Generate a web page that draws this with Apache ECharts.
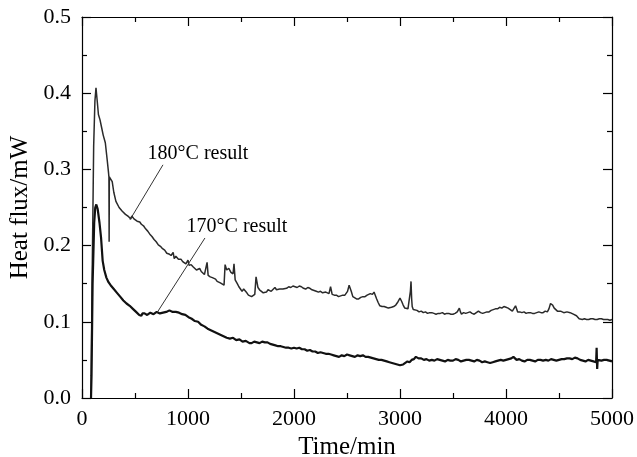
<!DOCTYPE html>
<html>
<head>
<meta charset="utf-8">
<script src="https://cdn.jsdelivr.net/npm/echarts@6/dist/echarts.min.js"></script>
<style>
  html, body { margin: 0; padding: 0; background: #fff; }
  #chart-container { width: 637px; height: 457px; }
</style>
</head>
<body>
<div id="chart-container"></div>
<script>
var dom = document.getElementById("chart-container");
var myChart = echarts.init(dom, null, { renderer: "canvas" });

// time (min), heat flux (mW)
const data180 = [
  [85, 0.0], [95, 0.15], [110, 0.33], [122, 0.39], [132, 0.407], [142, 0.392], [155, 0.372],
  [170, 0.365], [185, 0.355], [200, 0.345], [220, 0.335], [238, 0.312], [250, 0.296],
  [254, 0.29], [256, 0.205], [258, 0.29], [270, 0.288], [285, 0.284], [300, 0.27],
  [320, 0.258], [350, 0.25], [380, 0.245], [410, 0.241], [440, 0.238], [460, 0.235],
  [470, 0.239], [490, 0.235], [520, 0.232], [545, 0.231], [560, 0.228], [580, 0.226],
  [600, 0.222], [620, 0.219], [640, 0.215], [660, 0.212], [680, 0.208], [700, 0.205],
  [720, 0.201], [740, 0.199], [760, 0.196], [780, 0.194], [800, 0.19], [820, 0.189],
  [840, 0.187], [860, 0.191], [870, 0.183], [885, 0.186], [900, 0.186], [910, 0.182],
  [920, 0.18], [935, 0.182], [950, 0.179], [965, 0.178], [980, 0.176], [1000, 0.181],
  [1010, 0.174], [1030, 0.175], [1050, 0.172], [1065, 0.17], [1080, 0.168], [1095, 0.17],
  [1110, 0.17], [1125, 0.166], [1140, 0.164], [1155, 0.162], [1170, 0.16], [1180, 0.178],
  [1190, 0.161], [1210, 0.159], [1230, 0.158], [1245, 0.157], [1260, 0.156], [1275, 0.153],
  [1290, 0.152], [1305, 0.151], [1320, 0.15], [1340, 0.148], [1350, 0.175], [1365, 0.168],
  [1385, 0.17], [1405, 0.165], [1425, 0.163], [1434, 0.176], [1445, 0.155], [1465, 0.15],
  [1480, 0.146], [1495, 0.143], [1510, 0.14], [1525, 0.143], [1540, 0.142], [1555, 0.138],
  [1570, 0.135], [1585, 0.134], [1600, 0.133], [1615, 0.134], [1630, 0.136], [1642, 0.159],
  [1660, 0.145], [1675, 0.142], [1690, 0.14], [1710, 0.138], [1725, 0.139], [1740, 0.139],
  [1755, 0.142], [1770, 0.141], [1785, 0.14], [1800, 0.14], [1820, 0.145], [1835, 0.142],
  [1850, 0.142], [1865, 0.143], [1880, 0.144], [1895, 0.143], [1910, 0.145], [1930, 0.144],
  [1950, 0.146], [1970, 0.145], [1990, 0.147], [2010, 0.146], [2030, 0.145], [2050, 0.147],
  [2070, 0.146], [2090, 0.144], [2110, 0.143], [2130, 0.145], [2150, 0.144], [2170, 0.142],
  [2190, 0.141], [2210, 0.14], [2230, 0.139], [2250, 0.14], [2270, 0.138], [2285, 0.139],
  [2300, 0.139], [2315, 0.137], [2330, 0.137], [2345, 0.146], [2360, 0.136], [2380, 0.135],
  [2400, 0.135], [2420, 0.133], [2440, 0.134], [2460, 0.135], [2480, 0.135], [2505, 0.14],
  [2520, 0.148], [2540, 0.14], [2555, 0.133], [2570, 0.131], [2590, 0.13], [2610, 0.13],
  [2630, 0.132], [2650, 0.133], [2670, 0.133], [2690, 0.135], [2705, 0.134], [2720, 0.137],
  [2740, 0.136], [2755, 0.139], [2780, 0.13], [2795, 0.125], [2810, 0.121], [2830, 0.12],
  [2850, 0.12], [2870, 0.119], [2890, 0.118], [2905, 0.12], [2920, 0.119], [2940, 0.12],
  [2960, 0.122], [2980, 0.126], [3000, 0.131], [3015, 0.127], [3030, 0.122], [3045, 0.118],
  [3060, 0.116], [3075, 0.117], [3090, 0.116], [3098, 0.14], [3104, 0.153], [3110, 0.13],
  [3115, 0.12], [3125, 0.116], [3140, 0.114], [3160, 0.115], [3180, 0.113], [3200, 0.114],
  [3220, 0.112], [3240, 0.113], [3260, 0.111], [3280, 0.112], [3300, 0.112], [3320, 0.111],
  [3340, 0.11], [3360, 0.111], [3380, 0.111], [3400, 0.112], [3420, 0.11], [3440, 0.111],
  [3460, 0.111], [3480, 0.11], [3500, 0.11], [3520, 0.111], [3540, 0.113], [3560, 0.118],
  [3570, 0.113], [3580, 0.11], [3600, 0.112], [3620, 0.111], [3640, 0.112], [3660, 0.113],
  [3680, 0.111], [3700, 0.11], [3720, 0.112], [3740, 0.114], [3760, 0.112], [3780, 0.111],
  [3800, 0.112], [3820, 0.113], [3840, 0.113], [3860, 0.115], [3880, 0.116], [3900, 0.117],
  [3920, 0.117], [3940, 0.119], [3960, 0.118], [3980, 0.12], [4000, 0.119], [4020, 0.118],
  [4040, 0.116], [4060, 0.114], [4075, 0.115], [4090, 0.121], [4100, 0.117], [4110, 0.113],
  [4130, 0.113], [4150, 0.112], [4170, 0.113], [4190, 0.111], [4210, 0.112], [4230, 0.112],
  [4250, 0.111], [4270, 0.111], [4290, 0.112], [4310, 0.113], [4330, 0.112], [4350, 0.112],
  [4370, 0.114], [4390, 0.113], [4405, 0.117], [4420, 0.124], [4430, 0.123], [4440, 0.122],
  [4455, 0.118], [4470, 0.116], [4485, 0.114], [4500, 0.113], [4515, 0.114], [4530, 0.112],
  [4545, 0.112], [4560, 0.111], [4575, 0.113], [4590, 0.114], [4605, 0.112], [4620, 0.111],
  [4635, 0.11], [4650, 0.109], [4665, 0.108], [4680, 0.106], [4690, 0.104], [4700, 0.103],
  [4720, 0.103], [4740, 0.104], [4760, 0.103], [4780, 0.103], [4800, 0.104], [4820, 0.104],
  [4840, 0.103], [4860, 0.103], [4880, 0.104], [4900, 0.104], [4920, 0.103], [4940, 0.103],
  [4960, 0.103], [4980, 0.102], [5000, 0.103]
];

const data170 = [
  [85, 0.0], [90, 0.03], [100, 0.15], [115, 0.23], [125, 0.25], [135, 0.254], [148, 0.248],
  [165, 0.23], [180, 0.21], [195, 0.18], [210, 0.168], [230, 0.158], [250, 0.152],
  [270, 0.148], [285, 0.146], [300, 0.143], [315, 0.141], [330, 0.138], [345, 0.136],
  [360, 0.133], [375, 0.131], [390, 0.128], [405, 0.127], [420, 0.124], [435, 0.123],
  [450, 0.121], [465, 0.119], [480, 0.117], [495, 0.115], [510, 0.113], [525, 0.111],
  [540, 0.109], [550, 0.108], [560, 0.108], [570, 0.111], [580, 0.113], [590, 0.111],
  [600, 0.111], [615, 0.109], [630, 0.11], [645, 0.112], [660, 0.112], [675, 0.11],
  [690, 0.111], [705, 0.113], [720, 0.112], [735, 0.111], [750, 0.113], [765, 0.112],
  [780, 0.114], [795, 0.113], [810, 0.113], [825, 0.115], [840, 0.115], [855, 0.113],
  [870, 0.114], [885, 0.113], [900, 0.113], [915, 0.112], [930, 0.111], [945, 0.11],
  [960, 0.109], [975, 0.109], [990, 0.107], [1005, 0.106], [1020, 0.105], [1035, 0.104],
  [1050, 0.103], [1065, 0.101], [1080, 0.1], [1095, 0.1], [1110, 0.098], [1125, 0.096],
  [1140, 0.095], [1155, 0.094], [1170, 0.092], [1185, 0.091], [1200, 0.09], [1215, 0.089],
  [1230, 0.088], [1245, 0.087], [1260, 0.086], [1275, 0.085], [1290, 0.084], [1305, 0.083],
  [1320, 0.082], [1335, 0.081], [1350, 0.08], [1365, 0.079], [1380, 0.08], [1395, 0.078],
  [1410, 0.078], [1425, 0.079], [1440, 0.077], [1455, 0.076], [1470, 0.076], [1485, 0.077],
  [1500, 0.075], [1515, 0.074], [1530, 0.074], [1545, 0.075], [1560, 0.073], [1580, 0.072],
  [1600, 0.072], [1625, 0.074], [1650, 0.073], [1675, 0.072], [1700, 0.074], [1725, 0.073],
  [1750, 0.073], [1775, 0.071], [1800, 0.07], [1825, 0.069], [1850, 0.068], [1875, 0.068],
  [1900, 0.067], [1925, 0.066], [1950, 0.066], [1975, 0.065], [2000, 0.066], [2025, 0.065],
  [2050, 0.066], [2075, 0.064], [2100, 0.064], [2125, 0.062], [2150, 0.063], [2175, 0.061],
  [2200, 0.061], [2225, 0.059], [2250, 0.06], [2275, 0.059], [2300, 0.058], [2325, 0.058],
  [2350, 0.057], [2375, 0.056], [2400, 0.055], [2425, 0.054], [2450, 0.056], [2475, 0.055],
  [2500, 0.057], [2525, 0.056], [2550, 0.055], [2575, 0.054], [2600, 0.056], [2625, 0.055],
  [2650, 0.056], [2675, 0.054], [2700, 0.054], [2725, 0.053], [2750, 0.052], [2775, 0.051],
  [2800, 0.05], [2825, 0.05], [2850, 0.049], [2875, 0.048], [2900, 0.047], [2925, 0.046],
  [2950, 0.045], [2975, 0.044], [3000, 0.043], [3015, 0.042], [3030, 0.044], [3050, 0.046],
  [3070, 0.048], [3090, 0.047], [3110, 0.05], [3130, 0.051], [3150, 0.054], [3175, 0.052],
  [3200, 0.052], [3225, 0.05], [3250, 0.051], [3275, 0.049], [3300, 0.05], [3325, 0.049],
  [3350, 0.051], [3375, 0.05], [3400, 0.049], [3425, 0.048], [3450, 0.05], [3475, 0.049],
  [3500, 0.049], [3525, 0.051], [3550, 0.05], [3575, 0.048], [3600, 0.049], [3625, 0.05],
  [3650, 0.05], [3675, 0.049], [3700, 0.048], [3725, 0.05], [3750, 0.049], [3775, 0.047],
  [3800, 0.048], [3825, 0.047], [3850, 0.046], [3875, 0.047], [3900, 0.048], [3925, 0.049],
  [3950, 0.05], [3975, 0.049], [4000, 0.05], [4025, 0.051], [4050, 0.052], [4070, 0.054],
  [4085, 0.052], [4100, 0.05], [4125, 0.051], [4150, 0.049], [4175, 0.048], [4200, 0.05],
  [4225, 0.05], [4250, 0.049], [4275, 0.048], [4300, 0.05], [4325, 0.05], [4350, 0.049],
  [4375, 0.05], [4400, 0.049], [4425, 0.051], [4450, 0.05], [4475, 0.049], [4500, 0.05],
  [4525, 0.051], [4550, 0.051], [4575, 0.052], [4600, 0.052], [4625, 0.051], [4650, 0.053],
  [4675, 0.052], [4700, 0.05], [4725, 0.049], [4750, 0.048], [4775, 0.05], [4800, 0.049],
  [4825, 0.048], [4850, 0.047], [4855, 0.066], [4860, 0.038], [4865, 0.05], [4880, 0.049],
  [4900, 0.049], [4925, 0.05], [4950, 0.05], [4975, 0.049], [5000, 0.048]
];

// annotation text positions and leader lines, in data units
const labels = [
  { text: "180°C result", at: [1094, 0.32], line: [[764, 0.306], [453, 0.234]] },
  { text: "170°C result", at: [1462, 0.224], line: [[1160, 0.21], [708, 0.112]] }
];

const font = "Liberation Serif";

function axisCommon(showLabel) {
  return {
    axisLine: { show: true, onZero: false, lineStyle: { color: "#000", width: 1.2 } },
    axisTick: { show: true, inside: true, length: 9, lineStyle: { color: "#000", width: 1.2 } },
    minorTick: { show: true, splitNumber: 2, length: 5, lineStyle: { color: "#000", width: 1.2 } },
    splitLine: { show: false },
    axisLabel: { show: showLabel, color: "#000", fontFamily: font, fontSize: 22 }
  };
}

var option = {
  animation: false,
  grid: { left: 82, right: 25, top: 17, bottom: 59, outerBoundsMode: "none", containLabel: false },
  xAxis: [
    Object.assign(axisCommon(true), {
      type: "value", min: 0, max: 5000, interval: 1000,
      name: "Time/min", nameLocation: "middle", nameGap: 30,
      nameTextStyle: { color: "#000", fontFamily: font, fontSize: 25 }
    }),
    Object.assign(axisCommon(false), {
      type: "value", min: 0, max: 5000, interval: 1000, position: "top"
    })
  ],
  yAxis: [
    Object.assign(axisCommon(true), {
      type: "value", min: 0, max: 0.5, interval: 0.1,
      name: "Heat flux/mW", nameLocation: "middle", nameGap: 46,
      nameTextStyle: { color: "#000", fontFamily: font, fontSize: 25 }
    }),
    Object.assign(axisCommon(false), {
      type: "value", min: 0, max: 0.5, interval: 0.1, position: "right"
    })
  ],
  series: [
    {
      name: "180°C result",
      type: "line",
      data: data180,
      showSymbol: false,
      lineStyle: { color: "#2a2a2a", width: 1.5 },
      markLine: {
        silent: true, symbol: "none",
        lineStyle: { color: "#333", width: 1, type: "solid" },
        label: { show: false },
        data: labels.map(l => [{ coord: l.line[0] }, { coord: l.line[1] }])
      },
      markPoint: {
        silent: true,
        symbolSize: 1,
        itemStyle: { color: "transparent" },
        label: { show: true, position: "inside", color: "#000", fontFamily: font, fontSize: 20 },
        data: labels.map(l => ({ coord: l.at, label: { formatter: l.text } }))
      }
    },
    {
      name: "170°C result",
      type: "line",
      data: data170,
      showSymbol: false,
      lineStyle: { color: "#111", width: 2.2 }
    }
  ]
};

option.xAxis[0].axisLabel.margin = 10;
option.xAxis[0].axisLabel.formatter = v => String(v);
option.yAxis[0].axisLabel.margin = 11;
option.yAxis[0].axisLabel.formatter = v => v.toFixed(1);

myChart.setOption(option);
window.addEventListener("resize", myChart.resize);
</script>
</body>
</html>
